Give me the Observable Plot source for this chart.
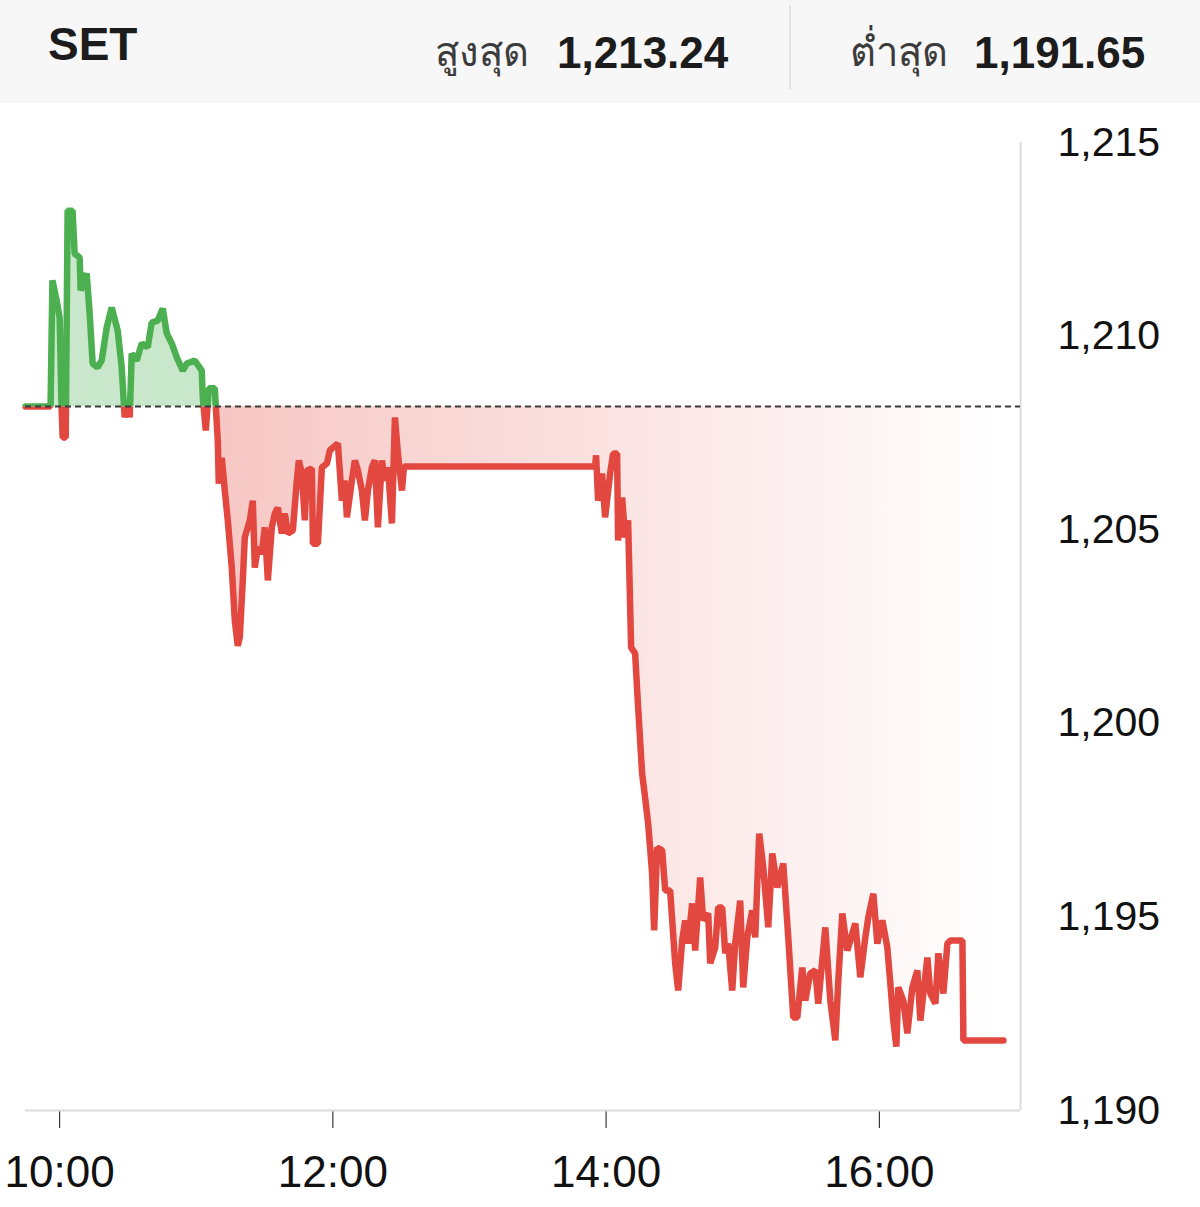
<!DOCTYPE html>
<html>
<head>
<meta charset="utf-8">
<script src="https://cdn.jsdelivr.net/npm/d3@7"></script>
<script src="https://cdn.jsdelivr.net/npm/@observablehq/plot@0.6"></script>
<style>
  html, body { margin: 0; padding: 0; background: #fff; }
  body { width: 1200px; font-family: "Liberation Sans", Arial, Helvetica, sans-serif; color: #1c1c1c; }
  #header { position: relative; height: 103px; background: #f7f7f7; }
  .h { position: absolute; line-height: 1; white-space: nowrap; }
  .sym { font-size: 46px; font-weight: 700; }
  .lab { font-size: 40px; color: #3c3c3c; }
  .num { font-size: 44px; font-weight: 700; }
  .sep { position: absolute; left: 789px; top: 5px; width: 2px; height: 84px; background: #e2e2e2; }
</style>
</head>
<body>
<div id="header">
  <div class="h sym" id="sym" style="left:48px; top:21px;"></div>
  <div class="h lab" id="hiLab" style="left:435px; top:32px;"></div>
  <div class="h num" id="hiVal" style="left:557px; top:31px;"></div>
  <div class="sep"></div>
  <div class="h lab" id="loLab" style="left:850px; top:32px;"></div>
  <div class="h num" id="loVal" style="left:974px; top:31px;"></div>
</div>
<div id="chart"></div>
<script>
// Index name and day range shown in the header
const symbol = "SET";
const highLabel = "สูงสุด";
const lowLabel = "ต่ำสุด";
const dayHigh = 1213.24;
const dayLow = 1191.65;

// Previous close: the dashed reference line splitting gains from losses
const prevClose = 1208.18;

// Intraday index level
const times = [
  "09:45:00","09:56:00","09:56:50","09:58:40","10:00:00","10:00:50","10:01:20","10:02:40",
  "10:03:30","10:05:40","10:06:35","10:08:47","10:09:14","10:11:52","10:13:11","10:14:30",
  "10:16:42","10:18:28","10:20:40","10:22:51","10:25:30","10:27:15","10:28:34","10:29:53",
  "10:30:46","10:31:39","10:33:51","10:36:02","10:38:41","10:40:26","10:43:05","10:45:16",
  "10:47:02","10:49:14","10:51:26","10:54:04","10:55:49","10:59:20","11:02:25","11:02:51",
  "11:04:11","11:05:30","11:08:08","11:09:27","11:09:53","11:11:13","11:12:32","11:13:51",
  "11:15:36","11:16:55","11:18:14","11:19:07","11:20:26","11:21:19","11:23:31","11:24:50",
  "11:25:43","11:27:02","11:28:47","11:30:07","11:31:26","11:33:11","11:34:30","11:35:49",
  "11:37:35","11:38:54","11:40:13","11:42:25","11:44:11","11:45:04","11:46:22","11:47:41",
  "11:48:34","11:50:46","11:51:13","11:53:25","11:55:10","11:57:22","11:58:41","12:02:12",
  "12:03:58","12:05:16","12:06:09","12:08:21","12:09:40","12:10:59","12:12:45","12:14:04",
  "12:15:23","12:17:08","12:18:28","12:19:47","12:21:32","12:22:52","12:24:11","12:25:56",
  "12:27:15","12:28:34","12:30:20","12:31:13","13:55:10","13:55:36","13:56:29","13:58:14",
  "13:59:34","14:01:46","14:03:05","14:04:50","14:05:16","14:07:02","14:08:21","14:09:40",
  "14:10:59","14:12:45","14:14:04","14:15:49","14:17:08","14:18:28","14:20:13","14:21:06",
  "14:22:25","14:24:37","14:25:56","14:28:08","14:30:20","14:31:39","14:33:25","14:34:44",
  "14:36:02","14:37:48","14:39:07","14:41:19","14:42:38","14:44:50","14:45:43","14:47:55",
  "14:49:14","14:50:59","14:52:19","14:53:38","14:55:23","14:56:42","14:58:54","15:00:13",
  "15:01:59","15:04:11","15:05:30","15:07:15","15:09:01","15:11:13","15:12:58","15:15:10",
  "15:17:48","15:20:00","15:22:12","15:23:58","15:26:09","15:27:28","15:29:40","15:31:52",
  "15:33:11","15:36:16","15:38:28","15:40:40","15:41:59","15:43:44","15:45:56","15:48:08",
  "15:49:27","15:51:39","15:53:51","15:55:10","15:57:22","15:59:07","16:01:19","16:03:31",
  "16:04:50","16:06:09","16:07:28","16:08:21","16:10:33","16:12:18","16:14:30","16:16:42",
  "16:18:01","16:21:06","16:22:25","16:24:37","16:25:56","16:28:08","16:29:53","16:31:13",
  "16:36:29","16:36:55","16:54:30"
];
const prices = [
  1208.18,1208.18,1211.44,1210.92,1210.48,1208.18,1207.38,1207.38,
  1213.24,1213.24,1212.13,1212.03,1211.18,1211.62,1210.58,1209.29,
  1209.19,1209.37,1210.22,1210.74,1210.14,1209.19,1207.90,1208.34,
  1207.90,1209.55,1209.37,1209.81,1209.71,1210.35,1210.40,1210.71,
  1210.07,1209.81,1209.45,1209.11,1209.29,1209.37,1209.11,1208.42,
  1207.56,1208.65,1208.65,1207.30,1206.19,1206.86,1206.01,1205.24,
  1204.02,1202.66,1202.00,1202.22,1203.69,1204.80,1205.24,1205.75,
  1204.02,1204.54,1204.39,1205.06,1203.69,1205.06,1205.42,1205.57,
  1204.90,1205.42,1204.90,1204.98,1206.27,1206.79,1206.45,1205.24,
  1206.53,1206.58,1204.64,1204.64,1206.61,1206.71,1207.05,1207.23,
  1205.75,1206.27,1205.32,1206.27,1206.79,1206.53,1206.01,1205.24,
  1206.01,1206.61,1206.79,1205.06,1206.79,1206.27,1206.61,1205.16,
  1207.90,1206.97,1206.01,1206.63,1206.63,1206.92,1205.75,1206.45,
  1205.32,1206.45,1206.97,1206.97,1204.72,1205.83,1204.80,1205.24,
  1201.96,1201.80,1200.41,1198.70,1198.08,1197.41,1196.12,1194.65,
  1196.79,1196.72,1195.68,1195.68,1193.80,1193.10,1194.39,1194.91,
  1194.31,1195.35,1194.13,1196.02,1194.91,1195.09,1193.80,1194.21,
  1195.24,1195.24,1194.06,1194.31,1193.10,1194.31,1195.42,1193.18,
  1194.47,1195.17,1194.47,1197.15,1196.28,1194.73,1196.64,1195.76,
  1196.38,1194.47,1192.40,1192.40,1193.69,1192.84,1193.54,1193.62,
  1192.76,1194.73,1192.84,1191.81,1193.36,1195.09,1194.13,1194.57,
  1194.83,1193.44,1194.47,1194.99,1195.60,1194.31,1194.91,1194.21,
  1193.28,1192.32,1191.65,1193.18,1192.84,1191.99,1193.18,1193.62,
  1192.32,1193.95,1193.02,1192.76,1194.06,1193.02,1194.31,1194.39,
  1194.39,1191.81,1191.81
];

// Axis ticks and time window
const xTicks = ["10:00", "12:00", "14:00", "16:00"];
const yTicks = [1190, 1195, 1200, 1205, 1210, 1215];
const xDomain = ["09:45", "17:02"];
const yDomain = [1190, 1215];

// Colours
const upLine = "#4caf50";
const upFill = "rgba(76,175,80,0.3)";
const downLine = "#e2483f";

document.getElementById("sym").textContent = symbol;
document.getElementById("hiLab").textContent = highLabel;
document.getElementById("loLab").textContent = lowLabel;
document.getElementById("hiVal").textContent = d3.format(",.2f")(dayHigh);
document.getElementById("loVal").textContent = d3.format(",.2f")(dayLow);

const parseHMS = d3.timeParse("%H:%M:%S");
const parseHM = d3.timeParse("%H:%M");
const data = times.map((t, i) => ({time: parseHMS(t), price: prices[i]}));
const xStart = parseHM(xDomain[0]);
const xEnd = parseHM(xDomain[1]);

const W = 1200, H = 1104;
const M = {top: 39, right: 180, bottom: 97, left: 25};

// Gradient for the loss area and clip regions above / below the previous close
const defsMark = (index, scales, values, dimensions) => {
  const ns = "http://www.w3.org/2000/svg";
  const width = dimensions?.width ?? W;
  const height = dimensions?.height ?? H;
  let yb;
  if (scales && typeof scales.y === "function") yb = scales.y(prevClose);
  else yb = M.top + (yDomain[1] - prevClose) / (yDomain[1] - yDomain[0]) * (H - M.top - M.bottom);
  const defs = document.createElementNS(ns, "defs");
  defs.innerHTML =
    `<linearGradient id="lossFade" x1="0" x2="1" y1="0" y2="0">
       <stop offset="0" stop-color="${downLine}" stop-opacity="0.38"/>
       <stop offset="1" stop-color="${downLine}" stop-opacity="0"/>
     </linearGradient>
     <clipPath id="aboveClose"><rect x="0" y="0" width="${width}" height="${yb}"/></clipPath>
     <clipPath id="belowClose"><rect x="0" y="${yb}" width="${width}" height="${height - yb}"/></clipPath>`;
  return defs;
};

const chart = Plot.plot({
  width: W,
  height: H,
  marginTop: M.top,
  marginRight: M.right,
  marginBottom: M.bottom,
  marginLeft: M.left,
  style: {
    background: "white",
    color: "#111",
    fontFamily: "'Liberation Sans', Arial, Helvetica, sans-serif",
    fontSize: "44px"
  },
  x: {
    type: "time",
    domain: [xStart, xEnd],
    ticks: xTicks.map(parseHM),
    tickFormat: d3.timeFormat("%H:%M"),
    tickSize: 18,
    tickPadding: 27,
    label: null
  },
  y: {
    domain: yDomain,
    ticks: yTicks,
    tickFormat: d3.format(","),
    axis: "right",
    tickSize: 0,
    tickPadding: 37,
    label: null
  },
  marks: [
    defsMark,
    Plot.ruleY([yDomain[0]], {stroke: "#dcdcdc", strokeWidth: 2}),
    Plot.ruleX([xEnd], {y1: yDomain[0], y2: yDomain[1], stroke: "#dcdcdc", strokeWidth: 2}),
    Plot.area(data, {x1: "time", y1: prevClose, y2: "price", fill: upFill}),
    Plot.area(data, {x1: "time", y1: prevClose, y2: "price", fill: "url(#lossFade)"}),
    Plot.line(data, {x: "time", y: "price", stroke: upLine, strokeWidth: 6.5, strokeLinejoin: "miter"}),
    Plot.line(data, {x: "time", y: "price", stroke: downLine, strokeWidth: 6.5, strokeLinejoin: "miter"}),
    Plot.ruleY([prevClose], {stroke: "#3a3a3a", strokeWidth: 2, strokeDasharray: "6,4"})
  ]
});

// Gains are drawn above the previous close, losses below it
const areas = chart.querySelectorAll('g[aria-label="area"]');
const lines = chart.querySelectorAll('g[aria-label="line"]');
if (areas.length === 2) {
  areas[0].setAttribute("clip-path", "url(#aboveClose)");
  areas[1].setAttribute("clip-path", "url(#belowClose)");
}
if (lines.length === 2) {
  lines[0].setAttribute("clip-path", "url(#aboveClose)");
  lines[1].setAttribute("clip-path", "url(#belowClose)");
}
// Price labels on the right are set a touch smaller than the time labels
chart.querySelectorAll('g[aria-label^="y-axis"]').forEach(g => g.setAttribute("font-size", "41"));

document.getElementById("chart").appendChild(chart);
</script>
</body>
</html>
